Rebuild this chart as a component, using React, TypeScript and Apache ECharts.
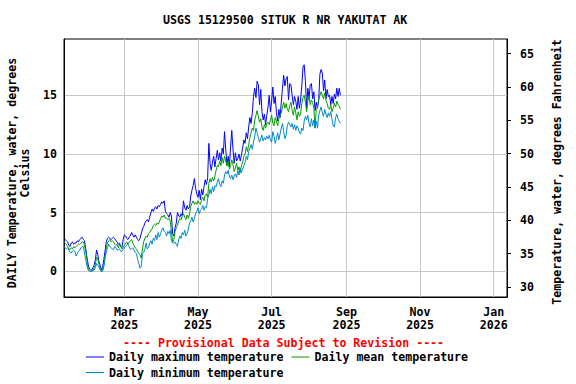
import React, { useEffect, useRef } from "react";
import * as echarts from "echarts";

const TITLE = "USGS 15129500 SITUK R NR YAKUTAT AK";
const PROVISIONAL = "---- Provisional Data Subject to Revision ----";
const LEFT_AXIS_NAME = "DAILY Temperature, water, degrees\nCelsius";
const RIGHT_AXIS_NAME = "Temperature, water, degrees Fahrenheit";
const SERIES_NAMES = ["Daily maximum temperature", "Daily mean temperature", "Daily minimum temperature"];

const START_DATE = Date.UTC(2025, 0, 10);
const X_MIN = Date.UTC(2025, 0, 10);
const X_MAX = Date.UTC(2026, 0, 12);
const MONTH_TICKS = [
  Date.UTC(2025, 2, 1),
  Date.UTC(2025, 4, 1),
  Date.UTC(2025, 6, 1),
  Date.UTC(2025, 8, 1),
  Date.UTC(2025, 10, 1),
  Date.UTC(2026, 0, 1),
];
const MONTH_NAMES = ["Jan", "Feb", "Mar", "Apr", "May", "Jun", "Jul", "Aug", "Sep", "Oct", "Nov", "Dec"];
const CELSIUS_TICKS = [0, 5, 10, 15];
const FAHRENHEIT_TICKS = [30, 35, 40, 45, 50, 55, 60, 65];

const MAX_TEMP = [
  2.6, 2.7, 2.6, 2.5, 2.2, 2.1, 2.4, 2.5, 2.3, 2.4,
  2.4, 2.6, 2.5, 2.7, 2.8, 2.9, 2.7, 2.6, 1.9, 1.2,
  0.6, 0.2, 0.1, 0.1, 0.3, 0.5, 1.0, 1.8, 1.4, 0.8,
  0.5, 0.1, 0.4, 1.0, 1.7, 2.5, 2.8, 2.9, 2.8, 2.7,
  2.8, 2.9, 2.8, 2.6, 2.5, 2.3, 2.4, 2.1, 2.0, 2.7,
  3.1, 3.0, 2.8, 2.7, 2.9, 3.0, 3.3, 3.1, 2.9, 3.1,
  2.9, 2.7, 2.6, 2.8, 3.2, 3.6, 3.8, 4.1, 4.3, 4.4,
  4.2, 4.6, 5.0, 5.3, 5.1, 5.4, 5.5, 5.3, 5.6, 5.5,
  5.7, 5.9, 5.8, 6.0, 5.1, 4.9, 4.8, 4.6, 5.0, 4.7,
  3.2, 3.0, 3.7, 4.1, 5.0, 4.7, 4.6, 4.9, 4.7, 6.0,
  5.4, 5.2, 5.6, 5.3, 5.5, 6.4, 6.9, 7.3, 7.9, 7.1,
  6.6, 6.3, 6.9, 6.1, 7.0, 6.5, 7.2, 7.8, 7.4, 8.0,
  10.9, 9.2, 8.6, 9.3, 9.8, 8.9, 9.6, 10.3, 9.5, 10.1,
  9.4, 10.5, 10.0, 11.9, 10.4, 9.0, 9.8, 8.9, 10.6, 12.0,
  10.4, 9.2, 10.1, 9.4, 9.6, 10.0, 9.4, 9.9, 10.5, 11.2,
  10.9, 11.8, 11.3, 12.3, 13.1, 12.6, 13.5, 14.9, 15.6, 14.8,
  16.2, 15.9, 14.2, 15.5, 13.6, 12.9, 13.4, 12.5, 13.3, 14.0,
  15.0, 13.6, 14.5, 15.7, 14.3, 14.9, 13.5, 12.8, 13.8, 13.1,
  14.4, 15.6, 16.7, 15.8, 16.4, 16.6, 14.6, 16.0, 15.9, 15.0,
  14.2, 14.9, 14.5, 13.8, 14.9, 13.9, 14.6, 15.8, 17.4, 17.6,
  16.2, 13.9, 15.6, 14.8, 15.9, 16.0, 14.7, 15.3, 13.7, 14.4,
  13.9, 14.6, 16.8, 17.2, 16.9, 15.4, 16.3, 14.7, 15.5, 14.9,
  15.0, 14.2, 14.9, 14.3, 15.1, 14.7, 15.6, 14.9, 15.6, 15.0,
];

const MEAN_TEMP = [
  2.5, 2.4, 2.3, 2.1, 1.9, 1.85, 2.0, 1.9, 2.1, 2.0,
  2.1, 2.2, 2.3, 2.3, 2.4, 2.5, 2.5, 2.2, 1.7, 1.0,
  0.3, 0.1, 0.0, 0.0, 0.1, 0.3, 0.6, 1.2, 1.0, 0.6,
  0.3, 0.0, 0.1, 0.5, 1.2, 2.0, 2.4, 2.6, 2.7, 2.5,
  2.6, 2.5, 2.3, 2.2, 2.3, 2.0, 2.3, 2.1, 1.9, 2.0,
  2.2, 2.4, 2.5, 2.3, 2.5, 2.6, 2.7, 2.4, 2.2, 2.0,
  1.9, 1.7, 1.5, 1.4, 1.1, 1.9, 2.5, 2.8, 3.0, 2.9,
  3.2, 3.3, 3.5, 3.6, 3.9, 4.0, 3.9, 4.1, 4.0, 4.2,
  4.5, 4.7, 4.6, 4.8, 4.5, 4.5, 4.4, 4.5, 4.3, 3.4,
  2.5, 2.7, 3.4, 3.7, 3.9, 4.3, 4.5, 4.4, 4.7, 4.9,
  4.6, 4.4, 4.8, 4.5, 4.9, 5.5, 5.8, 6.0, 5.7, 5.9,
  5.7, 6.0, 5.8, 5.7, 6.1, 6.3, 6.0, 6.5, 6.6, 6.3,
  7.5, 7.9, 7.6, 8.0, 7.7, 8.1, 8.6, 9.0, 8.9, 9.4,
  9.0, 9.7, 9.2, 9.8, 9.4, 9.0, 9.4, 8.7, 9.0, 9.5,
  9.1, 8.5, 8.8, 9.2, 8.6, 8.9, 8.4, 9.0, 9.3, 9.8,
  10.0, 10.6, 10.2, 10.8, 11.4, 11.8, 12.2, 12.0, 12.9, 13.3,
  13.7, 13.2, 12.7, 13.0, 12.3, 12.0, 12.5, 12.2, 12.6, 12.7,
  12.5, 12.9, 13.3, 12.6, 12.4, 13.1, 12.8, 12.4, 13.0, 13.3,
  13.5, 14.0, 14.4, 13.9, 14.3, 13.8, 13.6, 14.1, 14.4, 13.7,
  13.3, 14.0, 13.5, 12.9, 13.6, 13.2, 13.4, 14.3, 14.8, 15.0,
  14.4, 13.6, 14.5, 14.9, 14.2, 14.6, 14.4, 13.9, 12.2, 13.8,
  14.0, 14.6, 15.0, 15.3, 15.0, 14.7, 15.2, 14.6, 14.3, 13.9,
  13.8, 14.2, 13.6, 13.9, 14.3, 14.0, 14.5, 14.2, 14.1, 13.8,
];

const MIN_TEMP = [
  2.1, 2.0, 1.9, 2.0, 1.8, 1.6, 1.55, 1.7, 1.8, 1.7,
  1.3, 1.5, 1.7, 1.8, 2.0, 2.1, 2.1, 1.55, 1.0, 0.45,
  0.1, 0.0, 0.0, 0.0, 0.05, 0.1, 0.3, 0.65, 0.5, 0.35,
  0.1, -0.05, 0.0, 0.4, 1.1, 1.6, 2.0, 2.3, 2.1, 2.0,
  1.9, 1.85, 2.1, 2.0, 1.8, 1.85, 1.9, 1.7, 1.7, 1.85,
  2.0, 2.1, 2.2, 2.3, 2.1, 1.85, 1.9, 2.0, 1.8, 1.6,
  1.5, 1.0, 0.65, 0.25, 0.4, 1.5, 1.6, 1.85, 2.4, 1.9,
  2.0, 2.4, 2.6, 2.3, 2.8, 2.6, 3.1, 2.7, 3.3, 2.9,
  3.2, 3.5, 3.7, 3.4, 3.3, 3.0, 3.4, 3.2, 3.5, 2.6,
  2.4, 2.4, 2.5, 2.3, 2.1, 2.7, 3.0, 2.8, 3.3, 3.1,
  3.5, 3.0, 3.2, 3.6, 4.1, 4.3, 4.6, 4.2, 4.5, 4.9,
  5.1, 5.4, 4.9, 5.2, 5.3, 5.6, 5.2, 5.5, 5.4, 6.2,
  6.5, 7.0, 6.6, 7.2, 6.8, 7.3, 7.2, 7.6, 7.9, 7.4,
  7.2, 7.7, 7.5, 8.2, 8.5, 8.3, 8.6, 8.1, 7.9, 8.2,
  7.8, 8.1, 8.3, 8.0, 8.6, 8.2, 8.8, 8.4, 8.7, 9.0,
  9.3, 9.8, 9.5, 10.2, 10.5, 10.8, 10.4, 11.0, 11.5, 12.2,
  11.8, 11.4, 11.0, 11.3, 11.6, 11.1, 11.4, 11.2, 11.5, 11.3,
  11.6, 11.2, 11.0, 11.9, 11.5, 10.9, 11.3, 11.8, 11.2, 11.7,
  12.2, 12.6, 11.9, 11.3, 11.6, 12.4, 12.7, 12.5, 12.3, 12.6,
  12.1, 12.5, 12.0, 12.4, 12.2, 11.8, 11.7, 12.2, 12.0, 12.8,
  13.2, 12.9, 13.3, 12.6, 12.3, 13.0, 12.4, 12.9, 12.2, 12.8,
  12.2, 13.3, 13.7, 14.0, 13.5, 13.2, 13.8, 13.4, 13.1, 13.5,
  13.2, 13.6, 13.0, 12.4, 12.3, 13.1, 13.4, 13.0, 12.8, 12.6,
];

const COLORS = ["#0000ff", "#009f00", "#0088cc"];
const FONT = "DejaVu Sans Mono";
const FONT_SIZE = 11.6;
const DAY_MS = 86400000;

const toSeriesData = (values: number[]) =>
  values.map((v, i) => [START_DATE + i * DAY_MS, v]);

const textBase = {
  fontFamily: FONT,
  fontWeight: "bold" as const,
  fontSize: FONT_SIZE,
  color: "#000",
};

export default function App() {
  const ref = useRef<HTMLDivElement>(null);

  useEffect(() => {
    if (!ref.current) return;
    const chart = echarts.init(ref.current, null, { renderer: "svg" });
    const legendCommon = {
      left: 86,
      icon: "rect",
      itemWidth: 18,
      itemHeight: 1,
      itemGap: 8,
      padding: 0,
      selectedMode: false,
      textStyle: { ...textBase },
    };
    chart.setOption({
      animation: false,
      backgroundColor: "#ffffff",
      title: {
        text: TITLE,
        left: 163,
        top: 14,
        padding: 0,
        textStyle: { ...textBase },
      },
      grid: {
        left: 64,
        right: 69,
        top: 39,
        bottom: 87,
        show: true,
        borderColor: "#000",
        borderWidth: 1,
        backgroundColor: "transparent",
        outerBoundsMode: "none",
      },
      xAxis: {
        type: "value",
        min: X_MIN,
        max: X_MAX,
        axisLine: { show: true, onZero: false, lineStyle: { color: "#000" } },
        axisTick: { show: false, customValues: MONTH_TICKS },
        axisLabel: {
          customValues: MONTH_TICKS,
          ...textBase,
          lineHeight: 13,
          margin: 8,
          formatter: (value: number) => {
            const d = new Date(value);
            return MONTH_NAMES[d.getUTCMonth()] + "\n" + d.getUTCFullYear();
          },
        },
        splitLine: { show: true, lineStyle: { color: "#c8c8c8", width: 1 } },
      },
      yAxis: [
        {
          type: "value",
          min: -2.2,
          max: 19.8,
          name: LEFT_AXIS_NAME,
          nameLocation: "middle",
          nameRotate: 90,
          nameGap: 33,
          nameTextStyle: { ...textBase, lineHeight: 13, padding: [0, 10, 0, 0] },
          axisLine: { show: true, onZero: false, lineStyle: { color: "#000" } },
          axisTick: { show: false, customValues: CELSIUS_TICKS },
          axisLabel: { customValues: CELSIUS_TICKS, ...textBase, margin: 7 },
          splitLine: { show: true, lineStyle: { color: "#c8c8c8", width: 1 } },
        },
        {
          type: "value",
          position: "right",
          min: 28.5,
          max: 67.2,
          name: RIGHT_AXIS_NAME,
          nameLocation: "middle",
          nameRotate: 90,
          nameGap: 44,
          nameTextStyle: { ...textBase, padding: [0, 8, 0, 0] },
          axisLine: { show: true, onZero: false, lineStyle: { color: "#000" } },
          axisTick: {
            show: true,
            inside: false,
            length: 4,
            customValues: FAHRENHEIT_TICKS,
            lineStyle: { color: "#000" },
          },
          axisLabel: { customValues: FAHRENHEIT_TICKS, ...textBase, margin: 13 },
          splitLine: { show: false },
        },
      ],
      legend: [
        { ...legendCommon, top: 351, data: [SERIES_NAMES[0], SERIES_NAMES[1]] },
        { ...legendCommon, top: 366.5, data: [SERIES_NAMES[2]] },
      ],
      graphic: [
        {
          type: "text",
          x: 123,
          y: 343,
          style: {
            text: PROVISIONAL,
            fill: "#ff0000",
            font: `bold ${FONT_SIZE}px "${FONT}"`,
            align: "left",
            verticalAlign: "middle",
          },
        },
      ],
      series: [
        { name: SERIES_NAMES[0], data: toSeriesData(MAX_TEMP), color: COLORS[0] },
        { name: SERIES_NAMES[1], data: toSeriesData(MEAN_TEMP), color: COLORS[1] },
        { name: SERIES_NAMES[2], data: toSeriesData(MIN_TEMP), color: COLORS[2] },
      ].map((s) => ({
        ...s,
        type: "line",
        yAxisIndex: 0,
        symbol: "none",
        showSymbol: false,
        lineStyle: { width: 1, color: s.color },
        itemStyle: { color: s.color },
      })),
    });
    return () => chart.dispose();
  }, []);

  return (
    <div
      ref={ref}
      style={{ position: "fixed", left: 0, top: 0, width: 576, height: 384, background: "#fff" }}
    />
  );
}
